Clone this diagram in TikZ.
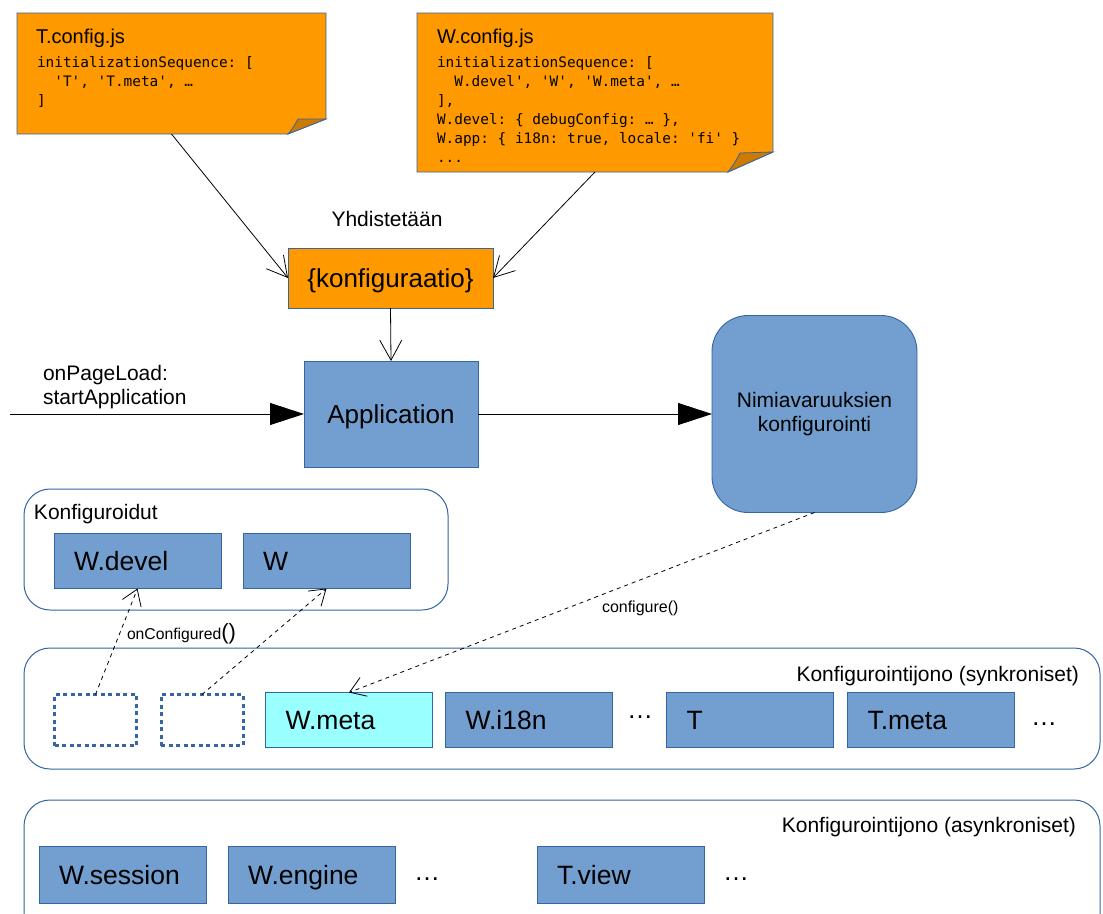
\documentclass[tikz,border=0pt]{standalone}
\usepackage{fontspec}
\setmainfont{Liberation Sans}
\setmonofont{DejaVu Sans Mono}
\usetikzlibrary{arrows.meta,calc}

\definecolor{noteorange}{HTML}{FF9900}
\definecolor{notefold}{HTML}{CC7A00}
\definecolor{boxblue}{HTML}{729FCF}
\definecolor{edgeblue}{HTML}{3465A4}
\definecolor{metacyan}{HTML}{99FFFF}

\begin{document}
\begin{tikzpicture}[x=1pt, y=-1pt,
  every node/.style={inner sep=0pt, outer sep=0pt},
  lbl/.style={font=\fontsize{21}{24}\selectfont},
  code/.style={font=\ttfamily\fontsize{14.4}{19}\selectfont, anchor=base west},
  notetitle/.style={font=\fontsize{20}{24}\selectfont, anchor=base west},
  notepaper/.style={draw=edgeblue, line width=0.8pt, fill=noteorange},
  noteflap/.style={draw=edgeblue, line width=0.8pt, fill=notefold},
  modbox/.style={draw=edgeblue, line width=0.9pt, fill=boxblue,
    minimum width=167pt, minimum height=55pt, text width=127pt, align=left,
    font=\fontsize{26.5}{30}\selectfont, text height=19pt, text depth=0pt},
  bigbox/.style={draw=edgeblue, line width=0.9pt, fill=boxblue,
    font=\fontsize{26}{30}\selectfont, text height=19pt, text depth=0pt},
  emptyslot/.style={draw=edgeblue, line width=3pt, dash pattern=on 4pt off 3.5pt,
    minimum width=82pt, minimum height=51pt},
  group/.style={draw=edgeblue, line width=1pt, rounded corners=26pt},
  ellip/.style={font=\fontsize{26}{30}\selectfont, anchor=base},
  link/.style={draw=black, line width=0.8pt},
  openhead/.style={link, -{Straight Barb[length=20pt, width=22pt]}},
  solidhead/.style={link, -{Triangle[length=34pt, width=22pt]}},
  callhead/.style={link, dash pattern=on 4pt off 4pt, -{Straight Barb[length=15pt, width=20pt]}},
]
\path[use as bounding box, fill=white] (0,0) rectangle (1103,913);
\clip (0,0) rectangle (1103,913);

% ---------- configuration notes ----------
\node[minimum width=309pt, minimum height=121pt] (tnote) at (171.5,73.5) {};
\path[notepaper] (tnote.north west) -- (tnote.north east) -- ($(tnote.south east)+(0,-15)$)
  -- ($(tnote.south east)+(-38,0)$) -- (tnote.south west) -- cycle;
\path[noteflap] ($(tnote.south east)+(-38,0)$)
  .. controls ($(tnote.south east)+(-33,-6)$) .. ($(tnote.south east)+(-28,-15)$)
  -- ($(tnote.south east)+(0,-15)$) -- cycle;
\node[notetitle] (ttitle) at (36,43) {T.config.js};
\node[code] (tcode1) at (37,67) {initializationSequence: [};
\node[code] (tcode2) at (37,86) {\phantom{xx}'T', 'T.meta', …};
\node[code] (tcode3) at (37,105) {]};

\node[minimum width=356pt, minimum height=159pt] (wnote) at (595,92.5) {};
\path[notepaper] (wnote.north west) -- (wnote.north east) -- ($(wnote.south east)+(0,-20)$)
  -- ($(wnote.south east)+(-45,0)$) -- (wnote.south west) -- cycle;
\path[noteflap] ($(wnote.south east)+(-45,0)$)
  .. controls ($(wnote.south east)+(-39,-8)$) .. ($(wnote.south east)+(-33,-19)$)
  -- ($(wnote.south east)+(0,-20)$) -- cycle;
\node[notetitle] (wtitle) at (437,43) {W.config.js};
\node[code] (wcode1) at (437,67) {initializationSequence: [};
\node[code] (wcode2) at (437,86) {\phantom{xx}W.devel', 'W', 'W.meta', …};
\node[code] (wcode3) at (437,105) {],};
\node[code] (wcode4) at (437,124) {W.devel: \{ debugConfig: … \},};
\node[code] (wcode5) at (437,143) {W.app: \{ i18n: true, locale: 'fi' \}};
\node[code] (wcode6) at (437,162) {.{}.{}.};

% ---------- merge and application ----------
\node[lbl, anchor=base] (merge) at (387,226) {Yhdistetään};
\node[draw=edgeblue, line width=0.9pt, fill=noteorange, minimum width=205pt, minimum height=60pt,
  font=\fontsize{26}{30}\selectfont, text height=19pt, text depth=0pt] (kon) at (390.5,278) {\{konfiguraatio\}};

\node[bigbox, minimum width=174pt, minimum height=106pt] (app) at (391,414) {Application};
\node[draw=edgeblue, line width=0.9pt, fill=boxblue, rounded corners=36pt,
  minimum width=205pt, minimum height=197pt, align=center,
  font=\fontsize{21}{24}\selectfont] (nimi) at (814.5,414) {Nimiavaruuksien\\konfigurointi};

\node[lbl, anchor=base west] (load1) at (43,380) {onPageLoad:};
\node[lbl, anchor=base west] (load2) at (43,404) {startApplication};
\coordinate (entry) at (10,414);

% ---------- configured modules ----------
\node[group, minimum width=424pt, minimum height=121pt] (donegrp) at (236,549.5) {};
\node[lbl, anchor=base west] (donetitle) at (34,519) {Konfiguroidut};
\node[modbox] (wdevel) at (137.5,561) {W.devel};
\node[modbox] (wmod) at (326.5,561) {W};

% ---------- synchronous queue ----------
\node[group, minimum width=1076pt, minimum height=121pt] (syncgrp) at (562,708.5) {};
\node[lbl, anchor=base east] (synctitle) at (1079,681) {Konfigurointijono (synkroniset)};
\node[emptyslot] (slot1) at (95.5,720) {};
\node[emptyslot] (slot2) at (202,720) {};
\node[modbox, fill=metacyan] (wmeta) at (349,720) {W.meta};
\node[modbox] (wi18n) at (529,720) {W.i18n};
\node[ellip] (more1) at (640,718) {…};
\node[modbox] (tmod) at (750,720) {T};
\node[modbox] (tmeta) at (931,720) {T.meta};
\node[ellip] (more2) at (1044,725) {…};

% ---------- asynchronous queue ----------
\node[group, minimum width=1076pt, minimum height=140pt] (asyncgrp) at (562,870) {};
\node[lbl, anchor=base east] (asynctitle) at (1076,832) {Konfigurointijono (asynkroniset)};
\node[modbox, minimum height=57pt] (wsession) at (122.5,875) {W.session};
\node[modbox, minimum height=57pt] (wengine) at (311.5,875) {W.engine};
\node[ellip] (more3) at (427,880) {…};
\node[modbox, minimum height=57pt] (tview) at (620.5,875) {T.view};
\node[ellip] (more4) at (736,880) {…};

% ---------- connectors ----------
\draw[openhead] (tnote.south) -- (kon.west);
\draw[openhead] (wnote.south) -- (kon.east);
\draw[openhead] (kon.south) -- (app.north);
\draw[solidhead] (entry) -- (app.west);
\draw[solidhead] (app.east) -- (nimi.west);
\draw[callhead] (nimi.south) -- (wmeta.north);
\draw[callhead] (slot1.north) -- (wdevel.south);
\draw[callhead] (slot2.north) -- (wmod.south);

\node[anchor=base west] (cfgcall) at (602,612) {\fontsize{16}{19}\selectfont configure()};
\node[anchor=base west] (donecall) at (127,639)
  {\fontsize{15.7}{19}\selectfont onConfigured\fontsize{22}{24}\selectfont ()};
\end{tikzpicture}
\end{document}
